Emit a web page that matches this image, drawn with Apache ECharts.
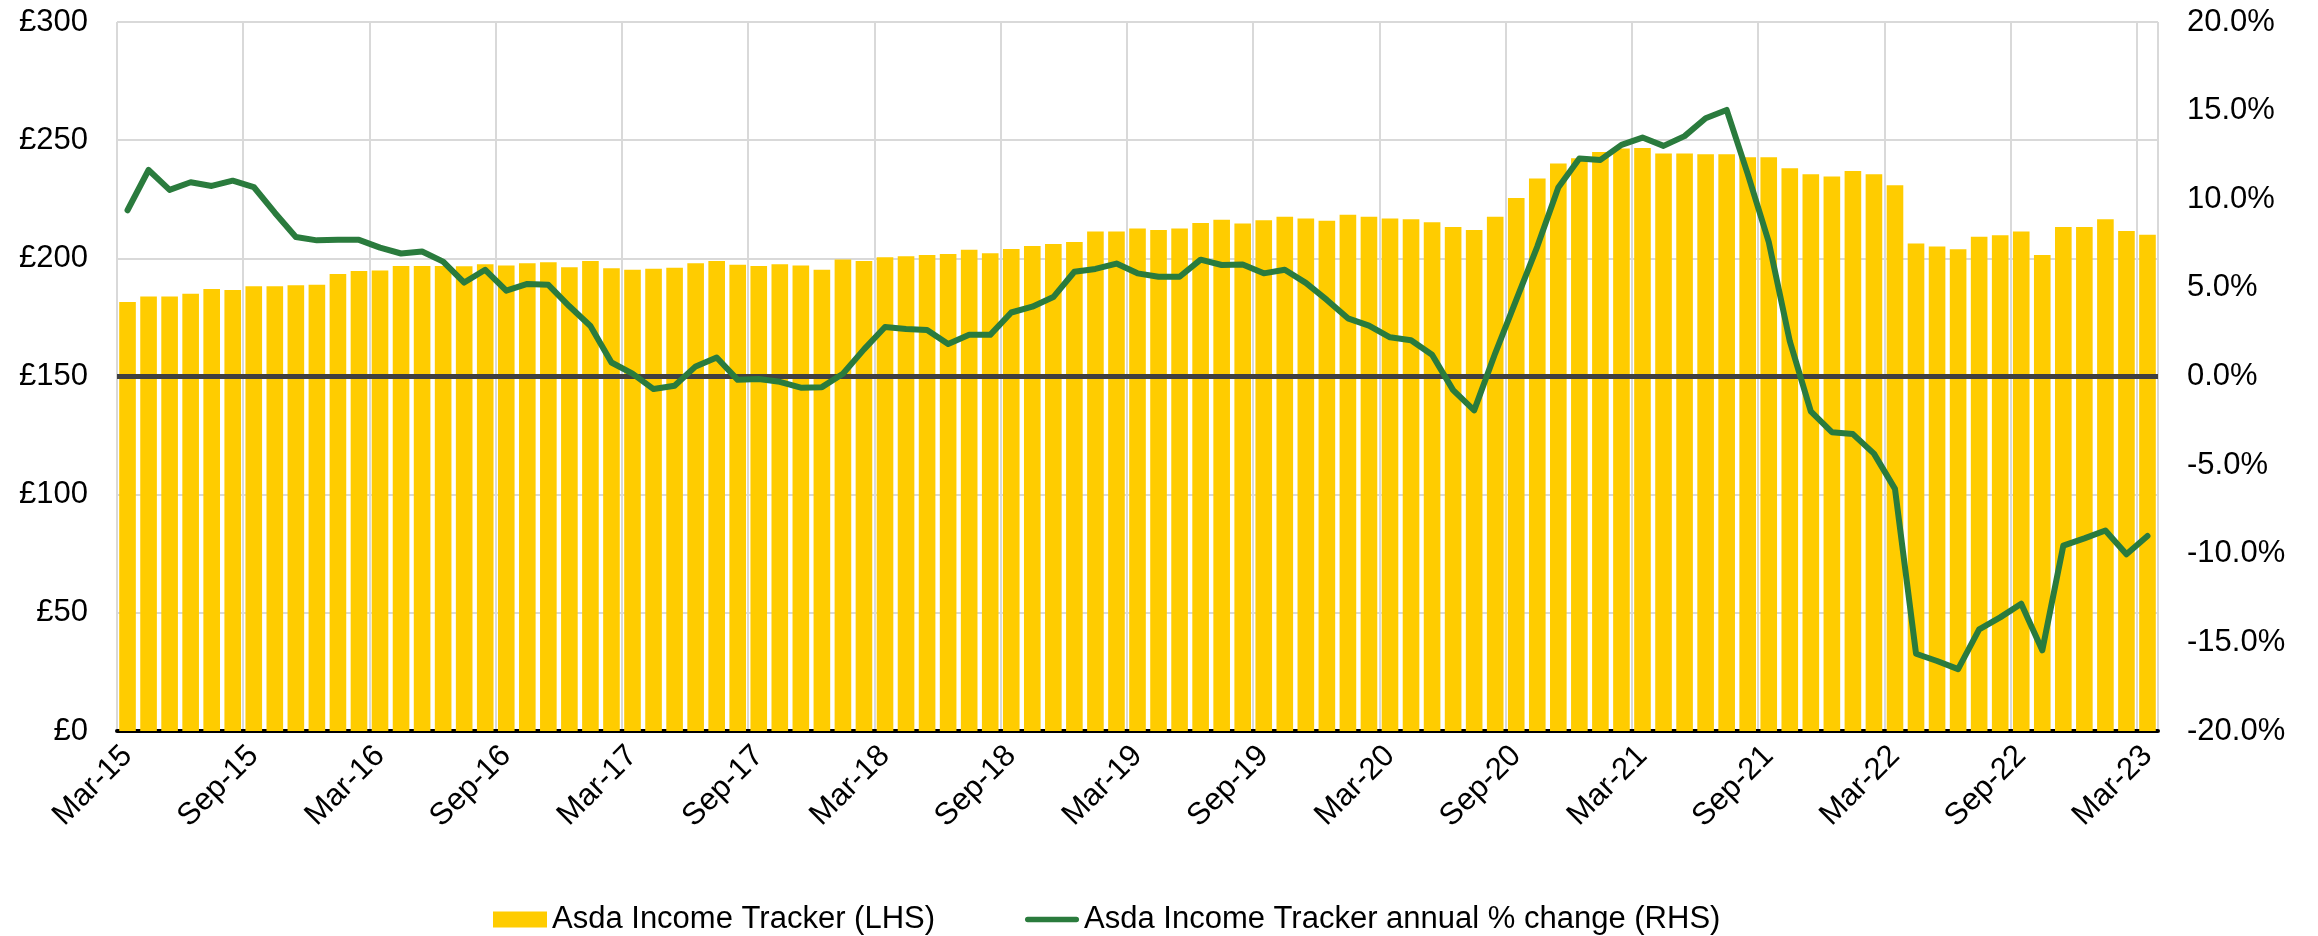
<!DOCTYPE html>
<html>
<head>
<meta charset="utf-8">
<title>Asda Income Tracker</title>
<script src="https://cdn.jsdelivr.net/npm/echarts@6/dist/echarts.min.js"></script>
<style>
  html, body { margin: 0; padding: 0; background: #fff; }
  #chart { width: 2318px; height: 936px; }
</style>
</head>
<body>
<div id="chart"></div>
<script>
// months Mar-15 .. Mar-23
const monthNames = ['Jan', 'Feb', 'Mar', 'Apr', 'May', 'Jun', 'Jul', 'Aug', 'Sep', 'Oct', 'Nov', 'Dec']
const firstYear = 15
const lastYear = 23

const categories = []
for (let y = firstYear; y <= lastYear; y++) {
  for (let m = 0; m < 12; m++) {
    if (y === firstYear && m < 2) continue
    if (y === lastYear && m > 2) continue
    categories.push(monthNames[m] + '-' + y)
  }
}

// Asda Income Tracker (£, LHS)
const incomeTracker = [
  181.5, 183.9, 183.9, 185.0, 187.0, 186.6, 188.2, 188.2, 188.6, 188.8, 193.4, 194.6,
  194.8, 196.8, 196.8, 196.8, 196.6, 197.5, 197.0, 197.9, 198.3, 196.2, 198.9, 195.8,
  195.2, 195.6, 196.0, 197.9, 198.9, 197.3, 196.8, 197.5, 197.0, 195.2, 199.5, 198.9,
  200.5, 200.9, 201.4, 201.8, 203.6, 202.2, 204.0, 205.2, 206.1, 206.9, 211.4, 211.4,
  212.6, 212.0, 212.6, 214.9, 216.3, 214.7, 216.1, 217.6, 216.9, 215.9, 218.4, 217.6,
  216.9, 216.5, 215.3, 213.3, 212.0, 217.6, 225.5, 233.8, 240.1, 242.4, 245.0, 246.5,
  246.7, 244.4, 244.4, 244.0, 244.0, 242.8, 242.8, 238.1, 235.6, 234.6, 237.0, 235.6,
  230.9, 206.3, 205.0, 203.8, 209.1, 209.8, 211.4, 201.4, 213.3, 213.3, 216.5, 211.6,
  210.0
]

// annual % change (RHS)
const annualChange = [
  9.38, 11.65, 10.53, 10.96, 10.75, 11.05, 10.69, 9.24, 7.87, 7.68, 7.71, 7.71,
  7.27, 6.94, 7.05, 6.48, 5.30, 6.02, 4.84, 5.22, 5.17, 3.96, 2.85, 0.79,
  0.16, -0.71, -0.52, 0.57, 1.07, -0.19, -0.14, -0.30, -0.63, -0.60, 0.16, 1.53,
  2.79, 2.68, 2.62, 1.83, 2.35, 2.35, 3.61, 3.94, 4.48, 5.91, 6.07, 6.37,
  5.82, 5.63, 5.63, 6.59, 6.29, 6.32, 5.82, 6.02, 5.28, 4.32, 3.28, 2.87,
  2.21, 2.05, 1.23, -0.77, -1.91, 1.31, 4.32, 7.33, 10.66, 12.30, 12.22, 13.07,
  13.48, 13.01, 13.56, 14.57, 15.04, 11.43, 7.60, 2.00, -1.97, -3.14, -3.25, -4.35,
  -6.34, -15.64, -16.05, -16.51, -14.27, -13.59, -12.82, -15.45, -9.54, -9.13, -8.69, -10.03,
  -9.00
]

const seriesNames = ['Asda Income Tracker (LHS)', 'Asda Income Tracker annual % change (RHS)']

const font = "'Liberation Sans', Arial, sans-serif"
const gridColor = '#d9d9d9'

const myChart = echarts.init(document.getElementById('chart'), null, { renderer: 'canvas' })

myChart.setOption({
  animation: false,
  backgroundColor: '#ffffff',
  textStyle: { fontFamily: font },
  grid: {
    left: 117,
    right: 160,
    top: 22,
    bottom: 205,
    containLabel: false
  },
  legend: {
    left: 488,
    top: 899,
    itemWidth: 54,
    itemHeight: 16,
    itemGap: 90,
    textStyle: { fontSize: 31, color: '#000', fontFamily: font },
    data: [
      { name: seriesNames[0], icon: 'rect' },
      {
        name: seriesNames[1],
        icon: 'path://M3,0 L57,0 A3,3 0 0 1 57,6 L3,6 A3,3 0 0 1 3,0 Z'
      }
    ]
  },
  xAxis: {
    type: 'category',
    data: categories,
    boundaryGap: true,
    axisLine: { show: true, lineStyle: { color: '#000', width: 4 } },
    axisTick: { show: false },
    axisLabel: {
      interval: 5,
      rotate: 45,
      margin: 20,
      fontSize: 31,
      color: '#000',
      fontFamily: font
    },
    splitLine: {
      show: true,
      interval: 5,
      lineStyle: { color: gridColor, width: 2 }
    }
  },
  yAxis: [
    {
      type: 'value',
      min: 0,
      max: 300,
      interval: 50,
      position: 'left',
      axisLine: { show: false },
      axisTick: { show: false },
      axisLabel: {
        margin: 29,
        fontSize: 31,
        color: '#000',
        fontFamily: font,
        formatter: function (v) { return '£' + v }
      },
      splitLine: { show: true, lineStyle: { color: gridColor, width: 2 } }
    },
    {
      type: 'value',
      min: -20,
      max: 20,
      interval: 5,
      position: 'right',
      axisLine: { show: false },
      axisTick: { show: false },
      axisLabel: {
        margin: 29,
        fontSize: 31,
        color: '#000',
        fontFamily: font,
        formatter: function (v) { return v.toFixed(1) + '%' }
      },
      splitLine: { show: false }
    }
  ],
  series: [
    {
      name: seriesNames[0],
      type: 'bar',
      yAxisIndex: 0,
      data: incomeTracker,
      barCategoryGap: '21%',
      itemStyle: { color: '#FFCC00' },
      z: 2,
      markLine: {
        silent: true,
        symbol: 'none',
        label: { show: false },
        lineStyle: { color: '#404040', width: 5, type: 'solid' },
        data: [{ yAxis: 150 }]
      }
    },
    {
      name: seriesNames[1],
      type: 'line',
      yAxisIndex: 1,
      data: annualChange,
      showSymbol: false,
      symbol: 'none',
      z: 5,
      lineStyle: { color: '#2A7B3D', width: 6, join: 'round', cap: 'round' },
      itemStyle: { color: '#2A7B3D' }
    }
  ]
})
</script>
</body>
</html>
